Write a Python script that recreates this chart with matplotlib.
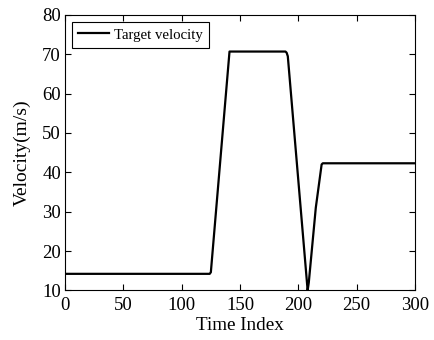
import matplotlib.pyplot as plt
import numpy as np

plt.rcParams['font.family'] = ['Liberation Serif', 'DejaVu Serif']

# target velocity profile (break points)
t_idx = [0, 124, 125, 141, 189, 190, 191, 208, 209, 215, 220, 221, 300]
vel = [14.2, 14.2, 14.6, 70.7, 70.7, 70.4, 69.5, 10.0, 12.0, 31.0, 42.0, 42.3, 42.3]

fig = plt.figure(figsize=(4.34, 3.40), dpi=100)
ax = fig.add_axes([0.150, 0.146, 0.806, 0.810])

ax.plot(t_idx, vel, 'k', linewidth=1.6, label='Target velocity')

ax.set_xlim([0, 300])
ax.set_ylim([10, 80])
ax.set_xticks(np.arange(0, 301, 50))
ax.set_yticks(np.arange(10, 81, 10))
ax.tick_params(direction='in', top=True, right=True, labelsize=13.5, length=4)
ax.tick_params(axis='x', pad=5)
ax.tick_params(axis='y', pad=3)
ax.set_xlabel('Time Index', fontsize=13.8, labelpad=2)
ax.set_ylabel('Velocity(m/s)', fontsize=14, labelpad=8)

leg = ax.legend(loc='upper left', fontsize=10.6, fancybox=False, framealpha=1,
                edgecolor='k', handlelength=2.1, borderaxespad=0.45,
                borderpad=0.45, handletextpad=0.3)
leg.get_frame().set_linewidth(0.8)

plt.savefig('out.png')
